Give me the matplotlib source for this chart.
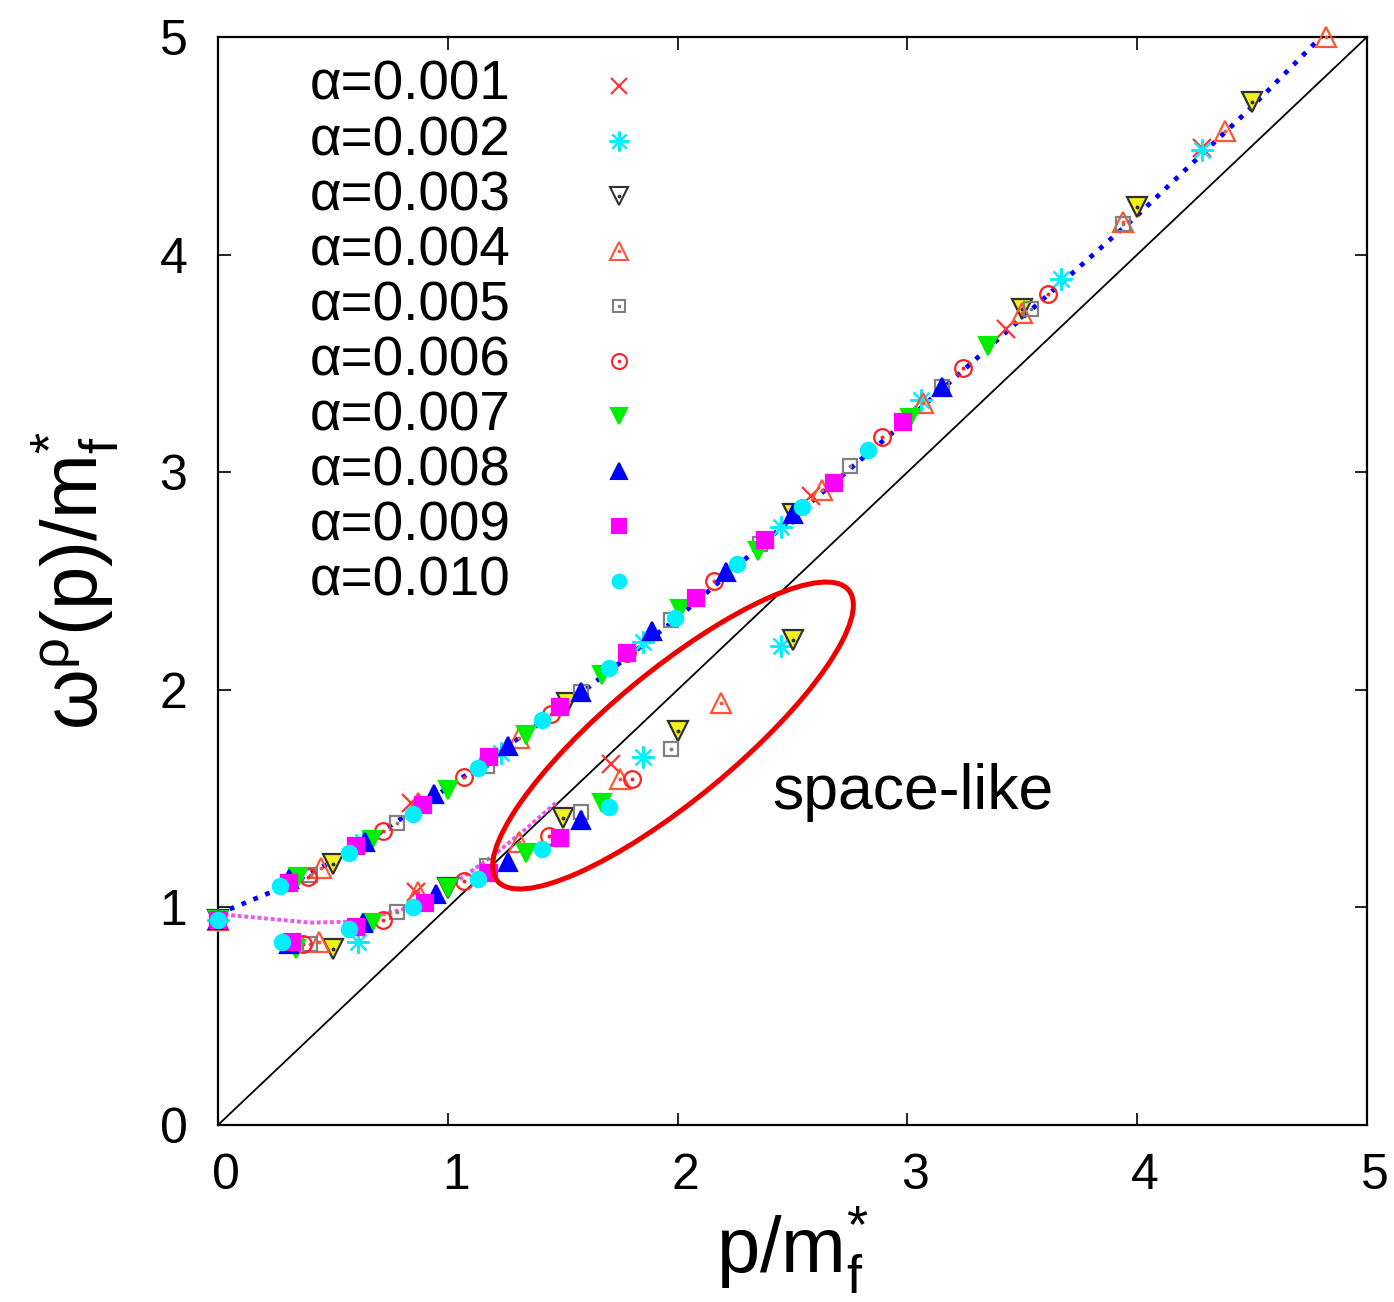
import matplotlib
matplotlib.use("Agg")
import matplotlib.pyplot as plt
from matplotlib.patches import Ellipse
from matplotlib.transforms import ScaledTranslation

plt.rcParams['font.family'] = ['Liberation Sans', 'DejaVu Sans']
plt.rcParams['mathtext.fontset'] = 'custom'
plt.rcParams['mathtext.rm'] = 'Liberation Sans'
plt.rcParams['mathtext.it'] = 'Liberation Sans:italic'

# alpha values of the ten runs
alphas = ['0.001', '0.002', '0.003', '0.004', '0.005',
          '0.006', '0.007', '0.008', '0.009', '0.010']

# upper (time-like) branch, p and omega per run
p_up = [
    [0.0, 0.84, 2.58, 3.43, 4.28],
    [0.0, 0.63, 1.23, 1.85, 2.45, 3.06, 3.67, 4.28],
    [0.0, 0.50, 1.52, 2.50, 3.50, 4.00, 4.50],
    [0.0, 0.45, 0.87, 1.31, 2.63, 3.07, 3.50, 3.94, 4.38, 4.82],
    [0.0, 0.40, 0.78, 1.17, 1.58, 1.97, 2.36, 2.75, 3.15, 3.54, 3.94],
    [0.0, 0.39, 0.72, 1.07, 1.45, 1.78, 2.16, 2.89, 3.24, 3.61],
    [0.0, 0.35, 0.67, 1.00, 1.34, 1.67, 2.01, 2.35, 3.01, 3.35],
    [0.0, 0.31, 0.64, 0.94, 1.26, 1.58, 1.89, 2.21, 2.50, 3.15],
    [0.0, 0.31, 0.60, 0.89, 1.18, 1.49, 1.78, 2.08, 2.38, 2.68, 2.98],
    [0.0, 0.27, 0.57, 0.85, 1.13, 1.41, 1.70, 1.99, 2.26, 2.54, 2.83],
]
w_up = [
    [0.94, 1.48, 2.89, 3.66, 4.49],
    [0.94, 1.30, 1.71, 2.22, 2.75, 3.33, 3.89, 4.48],
    [0.94, 1.20, 1.94, 2.81, 3.75, 4.22, 4.70],
    [0.94, 1.18, 1.48, 1.78, 2.92, 3.32, 3.73, 4.15, 4.57, 5.00],
    [0.94, 1.15, 1.39, 1.65, 1.99, 2.32, 2.67, 3.03, 3.39, 3.75, 4.14],
    [0.94, 1.14, 1.35, 1.60, 1.89, 2.17, 2.50, 3.16, 3.48, 3.82],
    [0.94, 1.14, 1.31, 1.54, 1.79, 2.07, 2.37, 2.64, 3.25, 3.58],
    [0.94, 1.13, 1.30, 1.52, 1.74, 1.99, 2.27, 2.54, 2.81, 3.39],
    [0.94, 1.11, 1.28, 1.47, 1.69, 1.92, 2.17, 2.42, 2.69, 2.95, 3.23],
    [0.94, 1.10, 1.25, 1.43, 1.64, 1.86, 2.10, 2.33, 2.58, 2.84, 3.10],
]

# lower branch, running into the space-like region
p_lo = [
    [0.86, 1.71],
    [0.61, 1.85, 2.45],
    [0.50, 1.00, 1.50, 2.00, 2.50],
    [0.44, 0.87, 1.31, 1.75, 2.19],
    [0.40, 0.78, 1.17, 1.58, 1.97],
    [0.37, 0.72, 1.07, 1.44, 1.80],
    [0.34, 0.67, 1.00, 1.34, 1.67],
    [0.31, 0.63, 0.95, 1.26, 1.58],
    [0.32, 0.60, 0.90, 1.18, 1.49],
    [0.28, 0.57, 0.85, 1.13, 1.41, 1.70],
]
w_lo = [
    [1.07, 1.66],
    [0.84, 1.69, 2.20],
    [0.81, 1.09, 1.41, 1.81, 2.23],
    [0.84, 1.07, 1.30, 1.59, 1.94],
    [0.83, 0.98, 1.19, 1.44, 1.73],
    [0.83, 0.94, 1.12, 1.33, 1.59],
    [0.81, 0.93, 1.09, 1.25, 1.48],
    [0.83, 0.93, 1.06, 1.21, 1.40],
    [0.84, 0.91, 1.02, 1.16, 1.32],
    [0.84, 0.90, 1.00, 1.13, 1.27, 1.46],
]

# dispersion curves (dotted)
curve_up_p = [0.0, 0.3, 0.6, 1.0, 1.5, 2.0, 2.5, 3.0, 3.5, 4.0, 4.5, 4.8]
curve_up_w = [0.97, 1.10, 1.27, 1.55, 1.92, 2.33, 2.79, 3.24, 3.71, 4.18, 4.68, 5.00]
curve_lo_p = [0.0, 0.2, 0.4, 0.6, 0.8, 1.0, 1.2, 1.35, 1.47]
curve_lo_w = [0.97, 0.95, 0.93, 0.935, 0.99, 1.09, 1.24, 1.37, 1.48]

# marker, face colour, edge colour, size, centre dot
styles = [
    ('x', 'none', '#ff3030', 13, False),
    ((8, 2, 0), 'none', '#00f0ff', 16, False),
    ('v', '#f2f21e', '#303030', 14, True),
    ('^', 'none', '#ff5535', 15, True),
    ('s', 'none', '#808080', 10, True),
    ('o', 'none', '#ff2020', 12, True),
    ('v', '#00ee00', '#00ee00', 13, False),
    ('^', '#0000ff', '#0000ff', 13, False),
    ('s', '#ff00ff', '#ff00ff', 11, False),
    ('o', '#00f0ff', '#00f0ff', 11, False),
]
legend_faces = ['none', 'none', 'none', 'none', 'none',
                'none', '#00ee00', '#0000ff', '#ff00ff', '#00f0ff']

fig = plt.figure(figsize=(13.94, 13.02), dpi=100)
ax = fig.add_axes([218 / 1394, 1 - 1125 / 1302, 1149 / 1394, 1088 / 1302])

ax.plot([0, 5], [0, 5], color='black', lw=1.3, zorder=1)
ax.plot(curve_up_p, curve_up_w, color='#0000ff', ls=(0, (1, 1.7)), lw=3.4,
        zorder=2)
ax.plot(curve_lo_p, curve_lo_w, color='#ee55ee', ls=(0, (1, 0.7)), lw=2.8,
        zorder=2)

for i in range(len(alphas)):
    m, fc, ec, ms, dot = styles[i]
    for px, wy in ((p_up[i], w_up[i]), (p_lo[i], w_lo[i])):
        ax.plot(px, wy, ls='none', marker=m, ms=ms, mfc=fc, mec=ec,
                mew=1.6, zorder=3 + i, clip_on=False)
        if dot:
            ax.plot(px, wy, ls='none', marker='o', ms=1.8, mfc=ec, mec=ec,
                    zorder=3 + i, clip_on=False)

# key, one row per run
for i, a in enumerate(alphas):
    m, fc, ec, ms, dot = styles[i]
    yk = 0.955 - 0.0506 * i
    ax.text(0.080, yk, 'α=' + a, transform=ax.transAxes, fontsize=39.5,
            va='center', ha='left')
    ax.plot([0.349], [yk], transform=ax.transAxes, ls='none', marker=m,
            ms=ms * 0.9, mfc=legend_faces[i], mec=ec, mew=1.5)
    if dot:
        ax.plot([0.349], [yk], transform=ax.transAxes, ls='none', marker='o',
                ms=1.6, mfc=ec, mec=ec)

# space-like region
ring = Ellipse((0, 0), width=4.56, height=1.28, angle=39.6, fill=False,
               ec='#ee0000', lw=3.6, zorder=20,
               transform=fig.dpi_scale_trans
               + ScaledTranslation(1.98, 1.79, ax.transData))
ax.add_patch(ring)
ax.text(2.41, 1.53, 'space-like', fontsize=45, ha='left', va='center')

ax.set_xlim(0, 5)
ax.set_ylim(0, 5)
ax.set_xticks(range(6))
ax.set_yticks(range(6))
ax.tick_params(direction='in', length=9, width=1.2, labelsize=36,
               top=True, right=True)
ax.tick_params(axis='x', pad=20)
ax.tick_params(axis='y', pad=22)
for lbl in ax.get_xticklabels():
    lbl.set_transform(lbl.get_transform()
                      + ScaledTranslation(0.08, 0, fig.dpi_scale_trans))
for s in ax.spines.values():
    s.set_linewidth(1.6)

ax.set_xlabel(r'$\mathrm{p/m^{*}_{f}}$', fontsize=56, labelpad=4)
ax.set_ylabel(r'$\mathrm{\omega^{\rho}(p)/m^{*}_{f}}$', fontsize=56,
              labelpad=28)

fig.savefig('out.png', dpi=100)
